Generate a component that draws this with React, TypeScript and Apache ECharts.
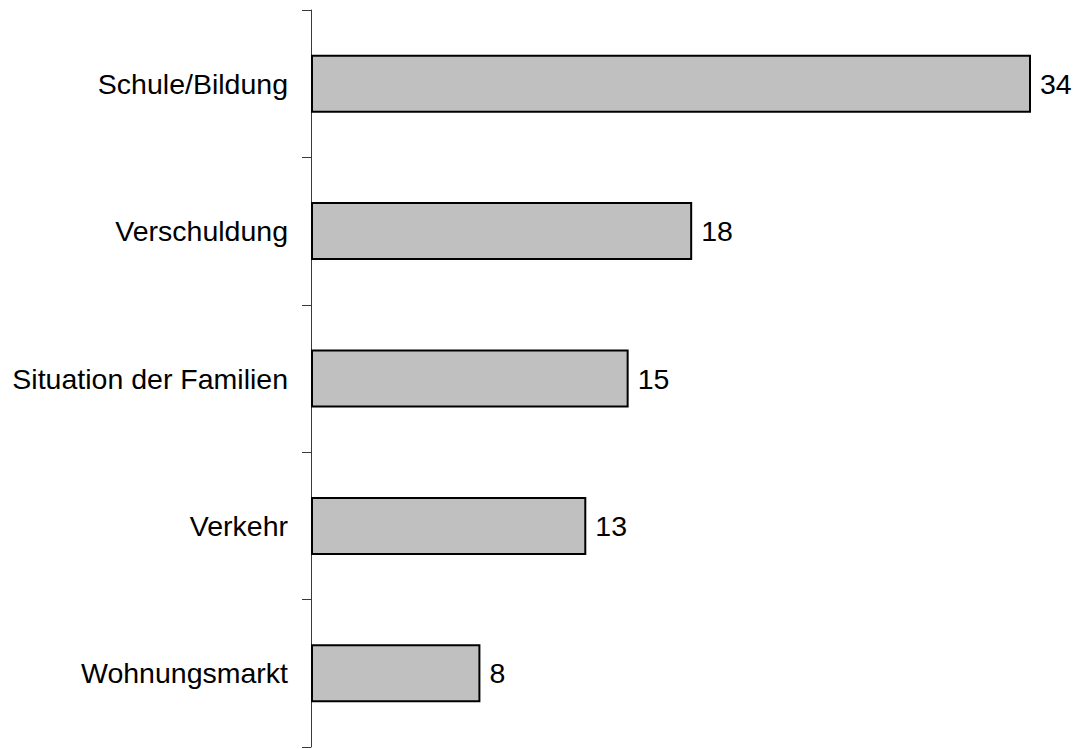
import React, { useEffect, useRef } from "react";
import * as echarts from "echarts";

const categories = ["Schule/Bildung", "Verschuldung", "Situation der Familien", "Verkehr", "Wohnungsmarkt"];
const values = [34, 18, 15, 13, 8];

export default function App() {
  const ref = useRef<HTMLDivElement>(null);
  useEffect(() => {
    if (!ref.current) return;
    const chart = echarts.init(ref.current, null, { renderer: "svg" });
    chart.setOption({
      animation: false,
      backgroundColor: "#ffffff",
      textStyle: { fontFamily: "Liberation Sans, Arial, sans-serif" },
      grid: { left: 311, top: 10, right: 48, bottom: 2, containLabel: false },
      xAxis: {
        type: "value",
        min: 0,
        max: 34,
        show: false,
      },
      yAxis: {
        type: "category",
        data: categories,
        inverse: true,
        axisLine: { show: true, lineStyle: { color: "#3a3a3a", width: 1 } },
        axisTick: { show: true, length: 9, alignWithLabel: false, lineStyle: { color: "#3a3a3a", width: 1 } },
        axisLabel: {
          margin: 23,
          color: "#000000",
          fontSize: 28.5,
          fontFamily: "Liberation Sans, Arial, sans-serif",
        },
        splitLine: { show: false },
      },
      series: [
        {
          type: "bar",
          data: values,
          barWidth: 58,
          itemStyle: { color: "#c0c0c0", borderColor: "#000000", borderWidth: 2 },
          label: {
            show: true,
            position: "right",
            distance: 9,
            color: "#000000",
            fontSize: 28.5,
            fontFamily: "Liberation Sans, Arial, sans-serif",
          },
        },
      ],
    });
    return () => chart.dispose();
  }, []);
  return (
    <div
      ref={ref}
      style={{ position: "fixed", left: 0, top: 0, width: 1079, height: 749 }}
    />
  );
}
